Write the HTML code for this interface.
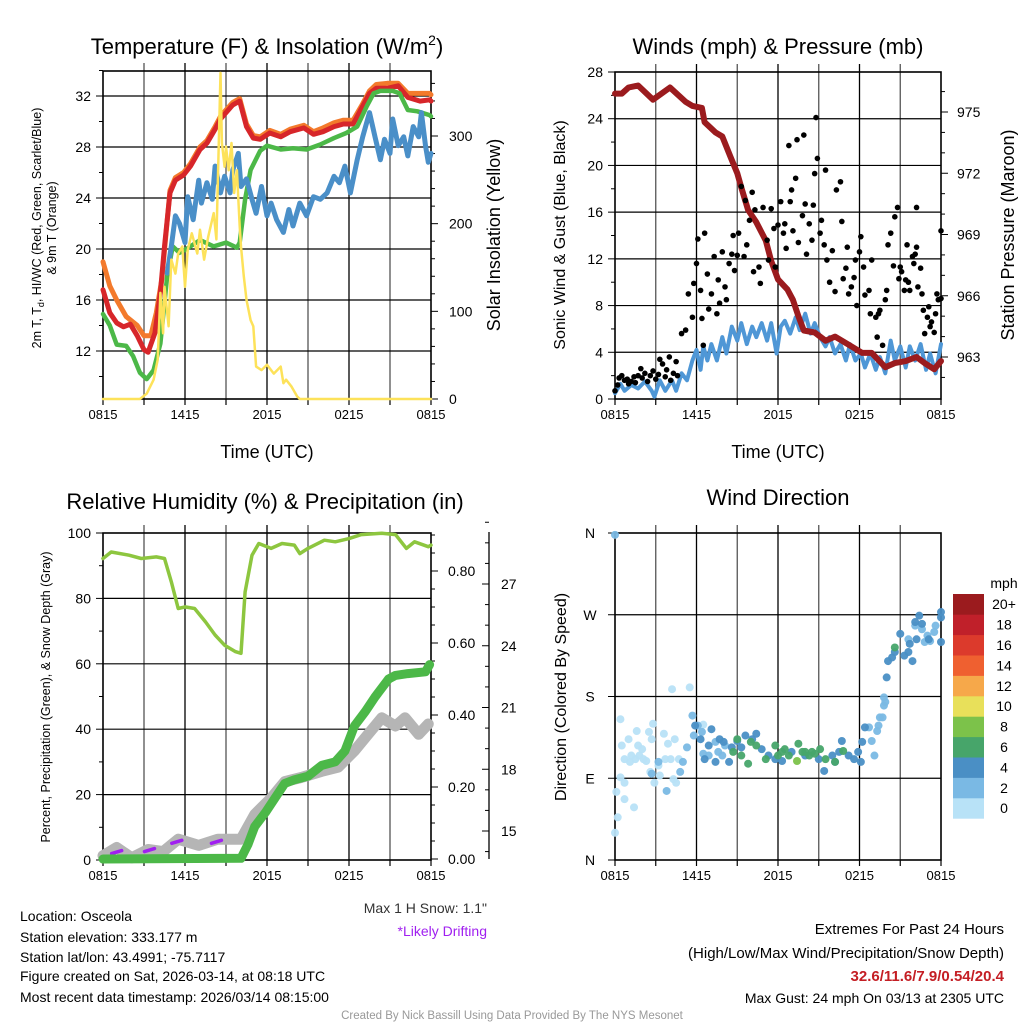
<!DOCTYPE html>
<html><head><meta charset="utf-8">
<style>
html,body{margin:0;padding:0;background:#fff;}
svg{display:block;font-family:"Liberation Sans",Arial,sans-serif;}
</style></head>
<body>
<svg id="chart" width="1024" height="1024" viewBox="0 0 1024 1024" xmlns="http://www.w3.org/2000/svg">
<rect x="0" y="0" width="1024" height="1024" fill="#fff"/>
<g id="g1"></g>
<g id="g2"></g>
<g id="g3"></g>
<g id="g4"></g>
<g id="txt">
<text x="267" y="54" font-size="22" text-anchor="middle">Temperature (F) &amp; Insolation (W/m<tspan dy="-9" font-size="14">2</tspan><tspan dy="9">)</tspan></text>
<text x="778" y="54" font-size="22" text-anchor="middle">Winds (mph) &amp; Pressure (mb)</text>
<text x="265" y="509" font-size="22" text-anchor="middle">Relative Humidity (%) &amp; Precipitation (in)</text>
<text x="778" y="505" font-size="22" text-anchor="middle">Wind Direction</text>
<text x="267" y="458" font-size="18" text-anchor="middle">Time (UTC)</text>
<text x="778" y="458" font-size="18" text-anchor="middle">Time (UTC)</text>
<text transform="translate(41,228) rotate(-90)" font-size="12.5" text-anchor="middle">2m T, T<tspan dy="3" font-size="9">d</tspan><tspan dy="-3">, HI/WC (Red, Green, Scarlet/Blue)</tspan></text>
<text transform="translate(56,228) rotate(-90)" font-size="12.5" text-anchor="middle">&amp; 9m T (Orange)</text>
<text transform="translate(500,235) rotate(-90)" font-size="18" text-anchor="middle">Solar Insolation (Yellow)</text>
<text transform="translate(565,235) rotate(-90)" font-size="16" text-anchor="middle">Sonic Wind &amp; Gust (Blue, Black)</text>
<text transform="translate(1014,235) rotate(-90)" font-size="18" text-anchor="middle">Station Pressure (Maroon)</text>
<text transform="translate(50,697) rotate(-90)" font-size="12.5" text-anchor="middle">Percent, Precipitation (Green), &amp; Snow Depth (Gray)</text>
<text transform="translate(566,697) rotate(-90)" font-size="16" text-anchor="middle">Direction (Colored By Speed)</text>
<text x="487" y="913" font-size="14" text-anchor="end" fill="#333">Max 1 H Snow: 1.1"</text>
<text x="487" y="936" font-size="14" text-anchor="end" fill="#a020f0">*Likely Drifting</text>
<text x="20" y="921" font-size="14">Location: Osceola</text>
<text x="20" y="942" font-size="14">Station elevation: 333.177 m</text>
<text x="20" y="962" font-size="14">Station lat/lon: 43.4991; -75.7117</text>
<text x="20" y="981" font-size="14">Figure created on Sat, 2026-03-14, at 08:18 UTC</text>
<text x="20" y="1002" font-size="14">Most recent data timestamp: 2026/03/14 08:15:00</text>
<text x="1004" y="934" font-size="15" text-anchor="end">Extremes For Past 24 Hours</text>
<text x="1004" y="958" font-size="15" text-anchor="end">(High/Low/Max Wind/Precipitation/Snow Depth)</text>
<text x="1004" y="981" font-size="15" text-anchor="end" font-weight="bold" fill="#c41e24">32.6/11.6/7.9/0.54/20.4</text>
<text x="1004" y="1003" font-size="14" text-anchor="end">Max Gust: 24 mph On 03/13 at 2305 UTC</text>
<text x="512" y="1019" font-size="11.5" text-anchor="middle" fill="#999">Created By Nick Bassill Using Data Provided By The NYS Mesonet</text>
<text x="1004" y="588" font-size="14" text-anchor="middle">mph</text>
</g>
</svg>
<script>
// ===== Panel 1 data =====
const redT = [0,0.5,1,1.5,2,2.5,3,3.3,3.8,4.2,4.5,4.9,5.3,5.9,6.4,7.1,7.6,8.2,8.6,9,9.5,10,10.5,11,11.5,12.2,13,13.7,14.7,15.4,16.1,16.9,17.6,18.3,19,19.5,20,20.8,21.6,22.3,23.2,23.9,24];
const redV = [16.8,15.0,14.2,13.9,14.1,13.2,12.1,11.9,13.4,16.6,20.2,24.4,25.4,25.8,26.5,27.8,28.3,29.4,30.2,30.7,31.3,31.6,29.6,28.7,28.6,29.1,28.8,29.2,29.5,29.0,29.2,29.6,29.8,29.8,31.2,32.2,32.6,32.6,32.8,31.9,31.6,31.7,31.6];
const orangeT = [0,0.5,1,1.7,2.5,3,3.5,3.9,4.3,4.9,5.3,5.9,6.4,7.1,7.6,8.2,8.6,9,9.5,10,10.5,11,11.5,12.2,13,13.7,14.7,15.4,16.1,16.9,17.6,18.3,19,19.5,20,20.8,21.6,22.3,23.2,23.9,24];
const orangeV = [19.0,17.1,16.0,14.7,14.0,13.2,13.2,15.0,17.6,24.6,25.6,26.0,26.7,28.0,28.5,29.6,30.4,30.9,31.5,31.8,29.8,28.9,28.8,29.3,29.0,29.4,29.7,29.2,29.5,29.9,30.1,30.1,31.4,32.4,32.9,33.0,33.0,32.2,32.2,32.2,32.1];
const greenT = [0,0.5,1,1.7,2.2,2.7,3.2,3.7,4.2,4.7,5.1,5.6,6.1,7.1,8.1,9,9.8,10,10.4,10.8,11.5,12,13,13.9,14.9,15.9,16.9,17.8,18.6,19.3,19.8,20.3,21.2,21.7,22.3,23,23.9,24];
const greenV = [14.9,14.0,12.5,12.4,11.6,10.3,9.8,10.5,12.6,17.9,20.2,19.7,20.0,20.7,20.2,20.5,20.1,20.5,23.9,26.2,27.7,28.1,27.8,27.9,27.8,28.2,28.7,29.1,29.6,31.2,32.2,32.4,32.4,32.2,30.9,30.8,30.5,30.4];
const blueT = [4.7,5.0,5.3,5.6,6.0,6.2,6.6,7.0,7.2,7.6,8.0,8.2,8.6,8.9,9.3,9.5,9.9,10.1,10.5,10.9,11.2,11.6,12.0,12.3,12.7,13.2,13.6,13.9,14.4,14.9,15.4,15.9,16.4,16.9,17.3,17.7,18.1,18.6,19.0,19.5,19.9,20.3,20.6,21.0,21.2,21.6,22.0,22.3,22.7,23.1,23.3,23.6,23.8,24];
const blueV = [18.1,20.2,22.6,22.0,20.5,24.1,22.3,25.4,23.6,25.2,23.9,26.5,24.4,25.7,24.4,26.2,27.5,24.9,25.5,23.9,22.8,24.9,22.6,23.6,22.3,21.3,23.1,21.8,23.6,22.6,24.1,23.9,24.4,25.7,25.2,26.5,24.4,27.0,28.8,30.7,28.8,27.0,28.6,27.5,30.2,28.1,28.8,27.3,29.6,28.8,30.7,28.1,26.8,27.5];
const solarT = [0,2.7,3.2,3.7,4.0,4.2,4.4,4.5,4.8,5.0,5.3,5.5,5.8,6.0,6.2,6.5,6.9,7.1,7.4,7.7,8.1,8.3,8.5,8.6,8.7,8.9,9.0,9.2,9.4,9.6,9.8,10.0,10.1,10.3,10.5,10.8,11.0,11.2,11.6,12.0,12.5,13.0,13.2,13.4,13.8,14.2,14.4,24];
const solarV = [0,0,6,22,45,121,75,128,83,159,143,166,174,128,170,189,166,193,159,185,212,182,311,372,292,265,288,261,292,235,261,197,174,140,113,90,83,37,33,39,29,37,18,22,14,3,0,0];
const tempTicks = [12,16,20,24,28,32];
const solarTicks = [0,100,200,300];
const timeLabels = ["0815","1415","2015","0215","0815"];
const timeLabelHours = [0,6,12,18,24];

// ===== Panel 2 data =====
const presT = [0,0.5,1.0,1.7,2.8,4.05,5.2,5.7,6.4,6.6,7.4,7.9,8.5,9.0,9.3,9.8,10.4,11.1,11.5,12.0,12.7,13.1,13.5,13.9,14.7,15.5,16.2,17.2,18.2,18.9,19.9,20.6,21.4,22.2,22.8,23.5,24];
const presV = [975.9,975.9,976.2,976.3,975.6,976.2,975.5,975.3,975.2,974.5,974.0,973.8,972.8,972.0,971.3,970.2,969.6,968.7,967.7,966.8,966.3,965.8,965.0,964.3,964.2,963.8,964.0,963.6,963.2,963.2,962.5,962.7,962.8,963.0,962.7,962.4,962.8];
const windT = [0,0.4,0.7,1.2,1.7,2.2,2.7,2.9,3.3,3.7,4.2,4.5,4.9,5.3,5.7,6.0,6.3,6.5,6.8,7.1,7.5,7.9,8.2,8.6,9.0,9.3,9.7,10.1,10.4,10.8,11.2,11.5,11.9,12.2,12.5,12.9,13.3,13.6,14.0,14.4,14.7,15.1,15.5,15.8,16.2,16.6,17.0,17.3,17.7,18.1,18.4,18.8,19.2,19.5,19.9,20.3,20.6,21.0,21.4,21.7,22.1,22.5,22.9,23.2,23.6,24.0];
const windV = [0.5,1.3,0.7,1.2,0.9,1.5,0.7,0.2,1.6,0.7,1.6,0.7,2.2,1.6,3.3,4.2,2.5,4.5,3.3,4.7,3.3,5.3,3.9,6.2,5.0,6.5,4.7,6.2,5.3,6.5,5.0,6.5,3.9,6.2,6.7,5.6,7.0,5.9,7.3,5.6,6.5,5.3,4.5,5.3,3.9,4.7,3.3,4.7,3.3,3.9,2.7,3.9,2.5,3.6,2.2,5.0,3.3,4.5,2.7,4.5,3.3,4.7,2.5,3.9,2.2,4.7];
const gustT = [0,0.2,0.3,0.5,0.7,0.9,1.0,1.2,1.4,1.5,1.7,1.9,2.0,2.2,2.4,2.6,2.8,3.0,3.2,3.3,3.5,3.7,3.8,4.0,4.1,4.3,4.5,4.6,4.9,5.2,5.4,5.7,5.8,6.0,6.1,6.3,6.4,6.5,6.6,6.8,6.9,7.1,7.3,7.5,7.6,7.7,7.9,8.1,8.2,8.4,8.6,8.7,8.8,9.0,9.1,9.3,9.5,9.6,9.7,9.9,10.1,10.2,10.3,10.6,10.7,10.9,11.2,11.3,11.5,11.7,11.8,12.0,12.2,12.4,12.5,12.6,12.8,12.9,13.0,13.1,13.3,13.4,13.5,13.8,13.9,14.0,14.1,14.3,14.5,14.6,14.7,14.8,14.9,15.1,15.2,15.4,15.5,15.6,15.8,16.0,16.2,16.3,16.6,16.7,16.8,17.0,17.1,17.2,17.4,17.6,17.7,17.8,18.0,18.1,18.3,18.4,18.7,18.8,18.9,19.2,19.3,19.4,19.5,19.7,19.9,20.0,20.1,20.3,20.5,20.6,20.8,20.9,21.0,21.1,21.3,21.4,21.5,21.6,21.7,21.9,22.0,22.1,22.2,22.2,22.3,22.5,22.6,22.7,22.8,23.0,23.1,23.2,23.3,23.5,23.6,23.7,23.8,24.0,24.0];
const gustV = [0.7,1.2,1.8,2.0,1.6,1.7,1.3,1.5,1.9,1.4,2.0,2.6,1.8,2.2,1.5,2.0,2.4,1.7,2.1,3.4,3.0,1.9,2.5,3.6,1.6,2.2,3.2,2.0,5.6,5.9,9.0,7.0,9.9,11.6,13.7,9.3,6.9,4.6,14.2,10.7,7.7,9.0,12.2,7.3,10.2,8.2,12.6,9.6,8.5,11.6,12.4,14.0,11.0,12.3,14.2,18.2,12.2,17.0,13.2,15.3,17.7,10.9,16.2,11.3,9.9,16.4,13.6,11.9,16.3,14.6,11.3,14.9,16.9,14.2,15.0,12.9,21.7,16.9,17.9,14.4,18.9,22.2,13.4,15.7,22.6,16.7,12.4,15.0,13.6,16.6,19.3,24.1,20.6,14.2,15.3,13.2,19.6,11.9,10.0,12.7,9.2,17.9,18.6,15.2,10.3,11.2,13.0,9.0,9.6,10.4,11.9,8.0,12.6,13.9,11.3,8.9,9.3,7.3,11.9,7.0,5.3,7.3,7.6,4.6,8.5,9.3,13.2,14.2,11.4,15.6,16.4,10.3,11.3,10.9,9.3,10.2,13.2,10.0,9.3,12.2,11.6,12.4,13.0,16.4,9.6,11.2,9.0,7.6,5.6,7.0,7.9,6.2,6.6,5.7,7.3,9.0,8.5,14.4,8.6];
const windTicks = [0,4,8,12,16,20,24,28];
const presTicks = [963,966,969,972,975];

// ===== Panel 3 data =====
const rhT = [0,0.6,1.9,2.8,3.9,4.5,5.0,5.5,6.0,6.7,7.5,8.2,8.9,9.7,10.1,10.4,10.9,11.4,12.3,13.1,14.0,14.4,15.0,16.2,17.0,18.0,18.9,20.4,21.4,22.2,22.8,23.8,24];
const rhV = [92.2,94.2,93.2,92.2,92.7,92.2,85.1,76.9,77.4,76.9,72.8,68.8,65.7,63.7,63.2,82.0,93.2,96.8,95.3,96.8,96.3,93.7,95.3,97.8,97.3,98.3,99.5,99.9,99.5,95.3,97.3,95.8,96.3];
const precipT = [0,10.1,10.6,11.1,11.9,12.6,13.3,14.0,15.0,16.0,17.0,17.7,18.4,19.2,19.9,20.9,21.4,22.3,23.6,23.9];
const precipV = [0,0.002,0.04,0.09,0.13,0.17,0.21,0.22,0.23,0.26,0.27,0.30,0.37,0.41,0.45,0.50,0.51,0.515,0.52,0.54];
const snowT = [0,1.0,2.1,3.3,4.4,5.5,7.0,8.4,10.1,11.1,12.3,13.3,14.5,16.0,17.2,18.4,19.4,20.4,21.4,22.1,23.1,23.8];
const snowV = [13.8,14.2,13.7,14.1,14.0,14.6,14.3,14.6,14.6,15.8,16.6,17.4,17.6,17.9,18.1,18.9,19.7,20.5,20.1,20.5,19.7,20.2];
const driftT = [1.0,3.4,5.4,8.3];
const driftV = [14.0,14.1,14.5,14.5];
const rhTicks = [0,20,40,60,80,100];
const precipTicks = [0,0.2,0.4,0.6,0.8];
const snowTicks = [15,18,21,24,27];

// ===== Panel 4 data =====
const dirT = [0,0.2,0.1,0.4,0.7,0.7,0.4,0.5,1.0,1.1,1.4,1.5,1.6,1.7,1.8,2.0,2.1,2.3,2.5,2.6,2.8,2.7,2.9,3.2,3.3,3.6,3.7,3.9,4.1,4.2,4.3,4.4,4.5,4.7,5.5,6.5,0.7,1.2,0.0,
 2.7,3.2,3.8,4.8,5.0,5.3,5.7,5.8,6.1,6.4,6.5,6.9,7.4,7.6,7.9,8.1,18.7,18.9,19.1,19.3,19.4,19.5,19.7,19.8,19.9,19.8,21.6,22.1,22.6,23.0,23.2,23.5,23.6,22.8,
 5.9,6.3,6.6,6.9,7.1,7.4,7.7,8.0,8.4,8.6,9.0,9.3,9.6,10.1,10.4,10.8,11.3,11.8,12.3,13.0,14.0,15.0,15.4,16.0,16.2,16.5,16.7,17.2,17.6,17.9,18.1,18.2,18.4,20.0,20.1,20.4,20.6,21.0,21.3,21.6,21.9,21.7,22.1,22.4,22.6,22.2,23.1,24.0,24.0,24.0,
 9.0,8.7,9.3,9.8,10.0,10.4,11.1,11.8,12.0,12.5,12.8,13.5,13.8,14.3,14.7,15.1,15.5,16.2,16.8,20.6,12.3,14.0,14.5,13.4];
const dirV = [30,47,75,91,67,85,155,126,133,108,58,111,142,126,115,122,111,109,141,97,150,133,85,104,93,139,111,128,111,188,89,133,85,111,190,149,111,115,358,
 95,108,76,97,108,124,159,137,148,141,117,115,130,119,115,126,146,131,115,142,148,157,157,170,174,179,243,258,254,247,241,251,258,240,
 148,133,111,126,144,108,133,130,108,124,131,124,137,133,139,122,115,111,109,119,115,111,98,115,108,119,131,115,111,119,108,130,146,201,219,223,229,249,225,229,219,238,262,269,260,243,243,273,267,240,
 133,119,115,106,130,126,111,126,115,122,115,128,119,115,117,122,111,108,120,234,119,119,119,109];
const dirSpd = [1,1,1,1,1,1,1,1,1,1,1,1,1,1,1,1,1,1,1,1,1,1,1,1,1,1,1,1,1,1,1,1,1,1,1,1,1,1,3,
 3,3,3,3,3,3,3,3,3,3,3,3,3,3,3,3,3,3,3,3,3,3,3,3,3,3,3,3,3,3,3,3,3,3,
 5,5,5,5,5,5,5,5,5,5,5,5,5,5,5,5,5,5,5,5,5,5,5,5,5,5,5,5,5,5,5,5,5,5,5,5,5,5,5,5,5,5,5,5,5,5,5,5,5,5,
 7,7,7,7,7,7,7,7,7,7,7,7,7,7,7,7,7,7,7,7,7,7,7,9];
const dirTicks = [0,90,180,270,360];
const dirLabels = ["N","E","S","W","N"];
const cbLabels = ["0","2","4","6","8","10","12","14","16","18","20+"];
const cbColors = ["#b8e2f7","#7ab9e4","#4a8fc5","#47a56a","#7cc24a","#e8e05a","#f6a84a","#ef6030","#dc3a2c","#c0202a","#9b1b1e"];

// ===== drawing =====
const NS = "http://www.w3.org/2000/svg";
function mk(parent, tag, attrs){ const e=document.createElementNS(NS,tag); for(const k in attrs) e.setAttribute(k,attrs[k]); parent.appendChild(e); return e; }
function lin(d0,d1,r0,r1){ return v => r0 + (v-d0)/(d1-d0)*(r1-r0); }
function pathD(xs,ys,fx,fy){ return xs.map((t,i)=>(i?"L":"M")+fx(t).toFixed(1)+","+fy(ys[i]).toFixed(1)).join(""); }

function frame(g,x0,x1,y0,y1,fx,hGrid,fyGrid,name){
  for(let h=3;h<24;h+=3){
    const l=mk(g,"line",{x1:fx(h),x2:fx(h),y1:y0-8,y2:y1,stroke:(h%6===0)?"#000":"#555","stroke-width":1.3});
    
    
  }
  hGrid.forEach(v=>{
    const l=mk(g,"line",{x1:x0,x2:x1,y1:fyGrid(v),y2:fyGrid(v),stroke:"#000","stroke-width":1.2});
    
    
  });
  const r=mk(g,"rect",{x:x0,y:y0,width:x1-x0,height:y1-y0,fill:"none",stroke:"#000","stroke-width":1.6});
  
  
  for(let h=0;h<=24;h+=3){
    const t=mk(g,"line",{x1:fx(h),x2:fx(h),y1:y1,y2:y1+6,stroke:"#000","stroke-width":1.2});
    
    
  }
  timeLabelHours.forEach((h,i)=>{
    const t=mk(g,"text",{x:fx(h),y:y1+20,"font-size":13,"text-anchor":"middle"});
    t.textContent=timeLabels[i];
    
    
  });
}
function yTicks(g,x,fy,ticks,minorStep,lo,hi,side,labelFmt,name,labelDx,anchor){
  for(let v=lo; v<=hi+1e-9; v+=minorStep){
    const isMajor = ticks.some(t=>Math.abs(t-v)<1e-6);
    const len = isMajor?7:4;
    const l=mk(g,"line",{x1:x,x2:x+side*len,y1:fy(v),y2:fy(v),stroke:"#000","stroke-width":1});
    
    
  }
  ticks.forEach(v=>{
    const t=mk(g,"text",{x:x+side*(labelDx||11),y:fy(v)+5,"font-size":14,"text-anchor":anchor||(side<0?"end":"start")});
    t.textContent=labelFmt(v);
    
    
  });
}
function line(g,xs,ys,fx,fy,color,w,name){
  const p=mk(g,"path",{d:pathD(xs,ys,fx,fy),fill:"none",stroke:color,"stroke-width":w,"stroke-linejoin":"round","stroke-linecap":"round"});
  
  
  return p;
}

// Panel 1
(function(){
  const g=document.getElementById("g1");
  const x0=103,x1=431,y0=71,y1=399;
  const fx=lin(0,24,x0,x1), fy=lin(12,32,351,96), fs=lin(0,300,399,136);
  frame(g,x0,x1,y0,y1,fx,tempTicks,fy,"temp");
  yTicks(g,x0,fy,tempTicks,2,10,34,-1,v=>v,"temp-y",12);
  yTicks(g,x1,fs,solarTicks,20,0,370,1,v=>v,"solar-y",18);
  line(g,orangeT,orangeV,fx,fy,"#f37a2c",5,"series-9m-temp");
  line(g,redT,redV,fx,fy,"#d7262a",5,"series-2m-temp");
  line(g,greenT,greenV,fx,fy,"#4cb848",4.5,"series-dewpoint");
  line(g,blueT,blueV,fx,fy,"#4a8fc8",5,"series-wind-chill");
  line(g,solarT,solarV,fx,fs,"#fde25a",2.5,"series-solar");
})();

// Panel 2
(function(){
  const g=document.getElementById("g2");
  const x0=615,x1=941,y0=72,y1=399;
  const fx=lin(0,24,x0,x1), fy=lin(0,28,399,72), fp=lin(963,975,357,112);
  frame(g,x0,x1,y0,y1,fx,[4,8,12,16,20,24],fy,"wind");
  yTicks(g,x0,fy,windTicks,2,0,28,-1,v=>v,"wind-y",12);
  yTicks(g,x1,fp,presTicks,1,962,976,1,v=>v,"pressure-y",16);
  line(g,windT,windV,fx,fy,"#4f97d6",4,"series-sonic-wind");
  line(g,presT,presV,fx,fp,"#9b1b1e",6,"series-pressure");
  gustT.forEach((t,i)=>{
    const c=mk(g,"circle",{cx:fx(t),cy:fy(gustV[i]),r:2.8,fill:"#000"});
    
    
  });
})();

// Panel 3
(function(){
  const g=document.getElementById("g3");
  const x0=103,x1=431,y0=533,y1=860;
  const fx=lin(0,24,x0,x1), fy=lin(0,100,860,533), fpr=lin(0,0.8,859,571), fsn=lin(15,27,831,584);
  frame(g,x0,x1,y0,y1,fx,[20,40,60,80],fy,"rh");
  yTicks(g,x0,fy,rhTicks,10,0,100,-1,v=>v,"rh-y",12);
  yTicks(g,x1,fpr,precipTicks,0.05,0,0.9,1,v=>v.toFixed(2),"precip-y",17);
  const ax=mk(g,"line",{x1:489,x2:489,y1:532,y2:859,stroke:"#000","stroke-width":1.3});
  
  
  yTicks(g,489,fsn,snowTicks,1,14,30,-1,v=>v,"snow-y",-12,"start");
  line(g,snowT,snowV,fx,fsn,"#b5b5b5",11,"series-snow-depth");
  driftT.forEach((t,i)=>{
    const d=mk(g,"line",{x1:fx(t)-5,x2:fx(t)+5,y1:fsn(driftV[i])+2,y2:fsn(driftV[i])-1,stroke:"#a020f0","stroke-width":3.5,"stroke-linecap":"round"});
    
    
  });
  line(g,precipT,precipV,fx,fpr,"#4cb848",9,"series-precip");
  line(g,rhT,rhV,fx,fy,"#8dc63f",3.5,"series-rh");
})();

// Panel 4
(function(){
  const g=document.getElementById("g4");
  const x0=615,x1=941,y0=533,y1=860;
  const fx=lin(0,24,x0,x1), fy=lin(0,360,860,533);
  frame(g,x0,x1,y0,y1,fx,[90,180,270],fy,"dir");
  dirTicks.forEach((v,i)=>{
    const l=mk(g,"line",{x1:x0,x2:x0-7,y1:fy(v),y2:fy(v),stroke:"#000","stroke-width":1});
    
    
    const t=mk(g,"text",{x:590,y:fy(v)+5,"font-size":14,"text-anchor":"middle"});
    t.textContent=dirLabels[i];
    
    
  });
  dirT.forEach((t,i)=>{
    const ci=Math.min(10,Math.floor(dirSpd[i]/2));
    const c=mk(g,"circle",{cx:fx(t),cy:fy(dirV[i]),r:4,fill:cbColors[ci],"fill-opacity":0.95});
    
    
  });
  const top=594, bh=20.4;
  cbLabels.forEach((lab,i)=>{
    const y=top+(10-i)*bh;
    const r=mk(g,"rect",{x:953,y:y,width:31,height:bh+0.3,fill:cbColors[i]});
    
    
    const t=mk(g,"text",{x:1004,y:y+bh/2+5,"font-size":14,"text-anchor":"middle"});
    t.textContent=lab;
    
    
  });
})();
</script>
</body></html>
